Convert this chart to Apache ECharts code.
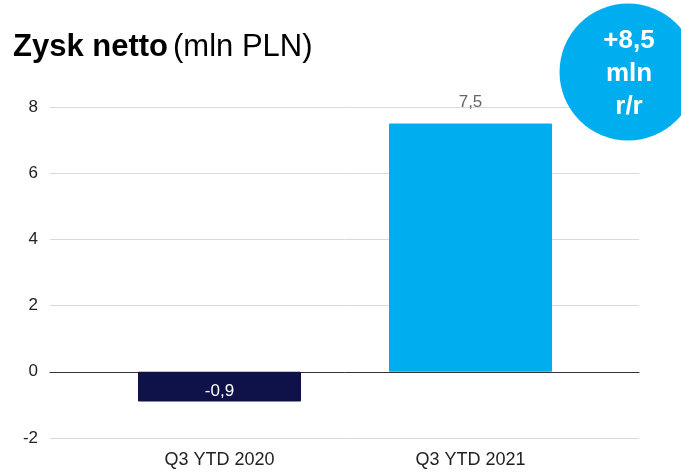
<!DOCTYPE html>
<html>
<head>
<meta charset="utf-8">
<script src="https://cdn.jsdelivr.net/npm/echarts@6/dist/echarts.min.js"></script>
<style>
  html, body { margin: 0; padding: 0; background: #ffffff; }
  #chart { width: 681px; height: 473px; }
</style>
</head>
<body>
<div id="chart"></div>
<script>
// Net profit, year-to-date Q3, in PLN millions
const categories = ['Q3 YTD 2020', 'Q3 YTD 2021'];
const profitValues = [-0.9, 7.5];
const barColors = ['#0e1248', '#00aeef'];
const yTicks = { min: -2, max: 8, interval: 2 };
const badgeLines = ['+8,5', 'mln', 'r/r'];

const FONT = 'Arial, "Liberation Sans", Helvetica, sans-serif';
const fmt = v => String(v).replace('.', ',');

const chart = echarts.init(document.getElementById('chart'), null, { renderer: 'canvas' });

const gridTop = 107, gridBottom = 35;

chart.setOption({
  backgroundColor: '#ffffff',
  animation: false,
  title: {
    left: 8,
    top: 27,
    text: '{b|Zysk netto} {n|(mln PLN)}',
    textStyle: {
      rich: {
        b: { fontFamily: FONT, fontWeight: 'bold', fontSize: 31, color: '#000000' },
        n: { fontFamily: FONT, fontWeight: 'normal', fontSize: 31, color: '#000000' }
      }
    }
  },
  grid: [
    // full-width frame: value axis and gridlines
    { left: 50, right: 42, top: gridTop, bottom: gridBottom },
    // bar area, narrower than the gridlines
    { left: 94, right: 85, top: gridTop, bottom: gridBottom }
  ],
  xAxis: [
    {
      gridIndex: 0,
      type: 'category',
      data: categories,
      axisLine: { show: true, onZero: true, lineStyle: { color: '#333333', width: 1 } },
      axisTick: { show: false },
      axisLabel: { show: false }
    },
    {
      gridIndex: 1,
      type: 'category',
      data: categories,
      axisLine: { show: false },
      axisTick: { show: false },
      axisLabel: { fontFamily: FONT, fontSize: 18, color: '#222222', margin: 13 }
    }
  ],
  yAxis: [
    {
      gridIndex: 0,
      type: 'value',
      min: yTicks.min, max: yTicks.max, interval: yTicks.interval,
      axisLine: { show: false },
      axisTick: { show: false },
      axisLabel: { fontFamily: FONT, fontSize: 17, color: '#222222', margin: 12 },
      splitLine: { lineStyle: { color: '#d9d9d9', width: 1 } }
    },
    {
      gridIndex: 1,
      type: 'value',
      min: yTicks.min, max: yTicks.max, interval: yTicks.interval,
      show: false,
      splitLine: { show: false }
    }
  ],
  series: [
    {
      type: 'bar',
      xAxisIndex: 1,
      yAxisIndex: 1,
      barWidth: 163,
      data: profitValues.map((v, i) => ({
        value: v,
        itemStyle: { color: barColors[i], borderRadius: 1 },
        label: v < 0
          ? { show: true, position: 'insideBottom', distance: 2, color: '#ffffff' }
          : { show: true, position: 'top', distance: 13, color: '#666666' }
      })),
      label: {
        fontFamily: FONT,
        fontSize: 17,
        formatter: p => fmt(p.value)
      }
    }
  ],
  graphic: [
    {
      type: 'circle',
      shape: { cx: 628, cy: 72, r: 68.5 },
      style: { fill: '#00aeef' },
      z: 100
    },
    {
      type: 'text',
      x: 629, y: 41,
      style: { text: badgeLines[0], fill: '#ffffff', font: 'bold 26px ' + FONT, align: 'center', verticalAlign: 'middle' },
      z: 101
    },
    {
      type: 'text',
      x: 629, y: 74,
      style: { text: badgeLines[1], fill: '#ffffff', font: 'bold 26px ' + FONT, align: 'center', verticalAlign: 'middle' },
      z: 101
    },
    {
      type: 'text',
      x: 629, y: 107,
      style: { text: badgeLines[2], fill: '#ffffff', font: 'bold 26px ' + FONT, align: 'center', verticalAlign: 'middle' },
      z: 101
    }
  ]
});
</script>
</body>
</html>
